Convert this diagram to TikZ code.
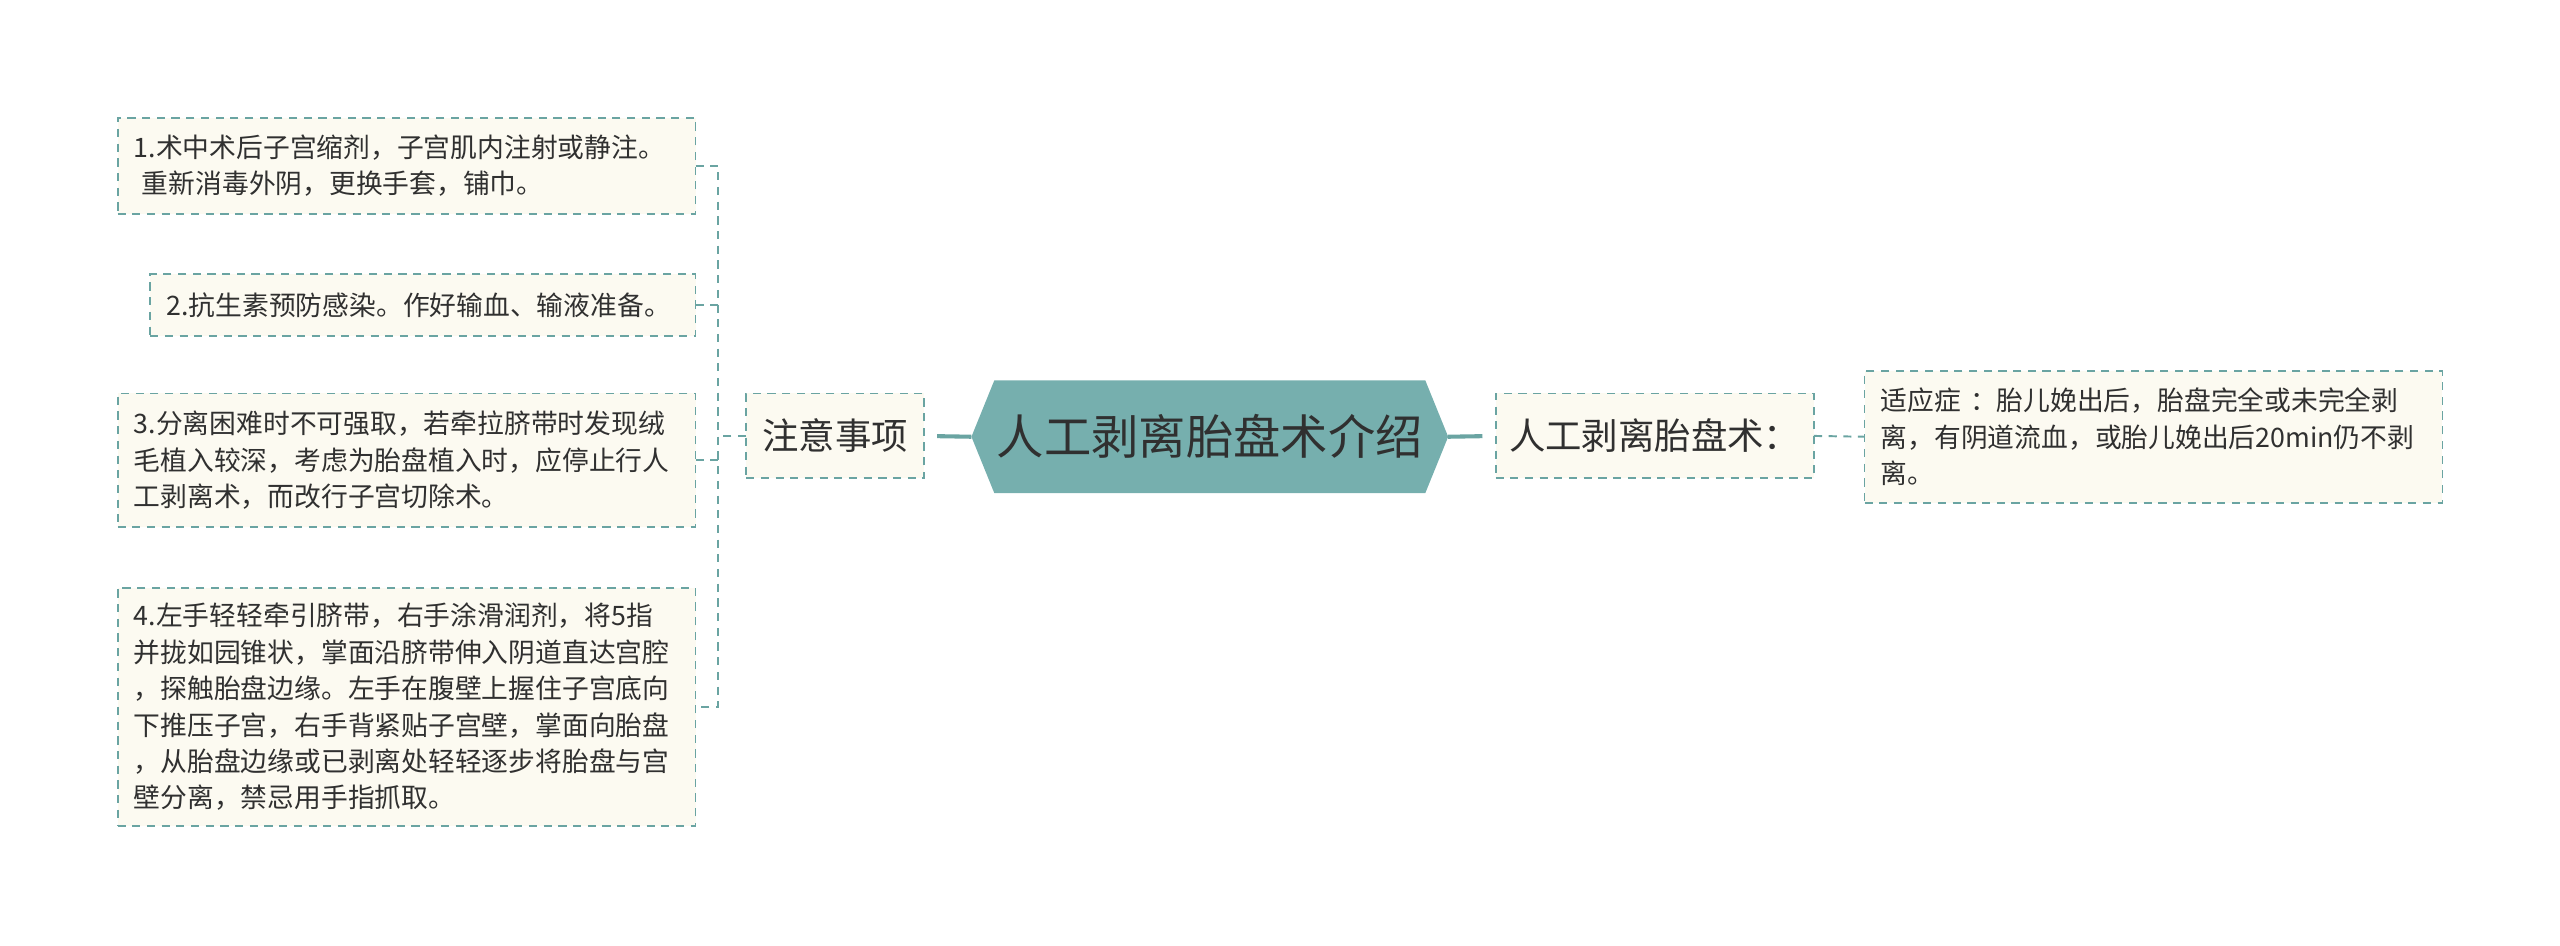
\documentclass[tikz,border=0pt]{standalone}
\usepackage{fontspec}
\setmainfont{Noto Sans CJK SC}
\usetikzlibrary{backgrounds}
\definecolor{hexfill}{HTML}{76AFAE}
\definecolor{edge}{HTML}{6AA4A2}
\definecolor{cream}{HTML}{FCFAF1}
\definecolor{txt}{HTML}{303030}
\begin{document}
\begin{tikzpicture}[x=1pt,y=-1pt,
  leaf/.style={draw=edge, dash pattern=on 5pt off 4pt, line width=1.2pt, fill=cream,
    anchor=north west, outer sep=0pt, inner xsep=10pt, inner ysep=0pt, align=left,
    text=txt, font=\fontsize{16.4}{22.3}\selectfont},
  mid/.style={draw=edge, dash pattern=on 5pt off 4pt, line width=1.2pt, fill=cream,
    anchor=north west, outer sep=0pt, inner sep=0pt, align=center,
    text=txt, font=\fontsize{22.3}{26}\selectfont},
  dline/.style={draw=edge, dash pattern=on 5pt off 4pt, line width=1.2pt},
  sline/.style={draw=edge, line width=2.5pt}]
\useasboundingbox (0,0) rectangle (1568,579.4);

\node[leaf, text width=334pt, minimum height=59pt] (b1) at (72,72)
  {1.术中术后子宫缩剂，子宫肌内注射或静注。\\\hspace*{0.3em}重新消毒外阴，更换手套，铺巾。};
\node[leaf, text width=314pt, minimum height=38pt] (b2) at (92,168)
  {2.抗生素预防感染。作好输血、输液准备。};
\node[leaf, text width=334pt, minimum height=82pt] (b3) at (72,241)
  {3.分离困难时不可强取，若牵拉脐带时发现绒\\毛植入较深，考虑为胎盘植入时，应停止行人\\工剥离术，而改行子宫切除术。};
\node[leaf, text width=334pt, minimum height=146pt] (b4) at (72,360)
  {4.左手轻轻牵引脐带，右手涂滑润剂，将5指\\并拢如园锥状，掌面沿脐带伸入阴道直达宫腔\\，探触胎盘边缘。左手在腹壁上握住子宫底向\\下推压子宫，右手背紧贴子宫壁，掌面向胎盘\\，从胎盘边缘或已剥离处轻轻逐步将胎盘与宫\\壁分离，禁忌用手指抓取。};

\node[mid, minimum width=109pt, minimum height=52pt] (zy) at (457,241) {注意事项};
\node[anchor=center, minimum width=292pt, minimum height=69pt, inner sep=0pt, outer sep=0pt,
  text=txt, font=\fontsize{29}{33}\selectfont] (root) at (741,267.5) {人工剥离胎盘术介绍};
\begin{scope}[on background layer]
  \fill[hexfill] (root.west) -- ([xshift=14pt]root.north west) -- ([xshift=-14pt]root.north east)
    -- (root.east) -- ([xshift=-14pt]root.south east) -- ([xshift=14pt]root.south west) -- cycle;
\end{scope}
\node[mid, minimum width=195pt, minimum height=52pt] (rt) at (916,241) {人工剥离胎盘术：};
\node[leaf, text width=334pt, minimum height=81pt] (rb) at (1142,227)
  {适应症~：胎儿娩出后，胎盘完全或未完全剥\\离，有阴道流血，或胎儿娩出后20min仍不剥\\离。};

\coordinate (bx) at (440,0);
\draw[dline] (b1.east) -- (b1.east -| bx) -- (b4.east -| bx) -- (b4.east);
\draw[dline] (b2.east) -- (b2.east -| bx);
\draw[dline] (b3.east) -- (b3.east -| bx);
\draw[dline] (zy.west) -- (zy.west -| bx);
\draw[sline, shorten <=8pt] (zy.east) -- (root.west);
\draw[sline, shorten >=8pt] (root.east) -- (rt.west);
\draw[dline] (rt.east) -- (rb.west);
\end{tikzpicture}
\end{document}
